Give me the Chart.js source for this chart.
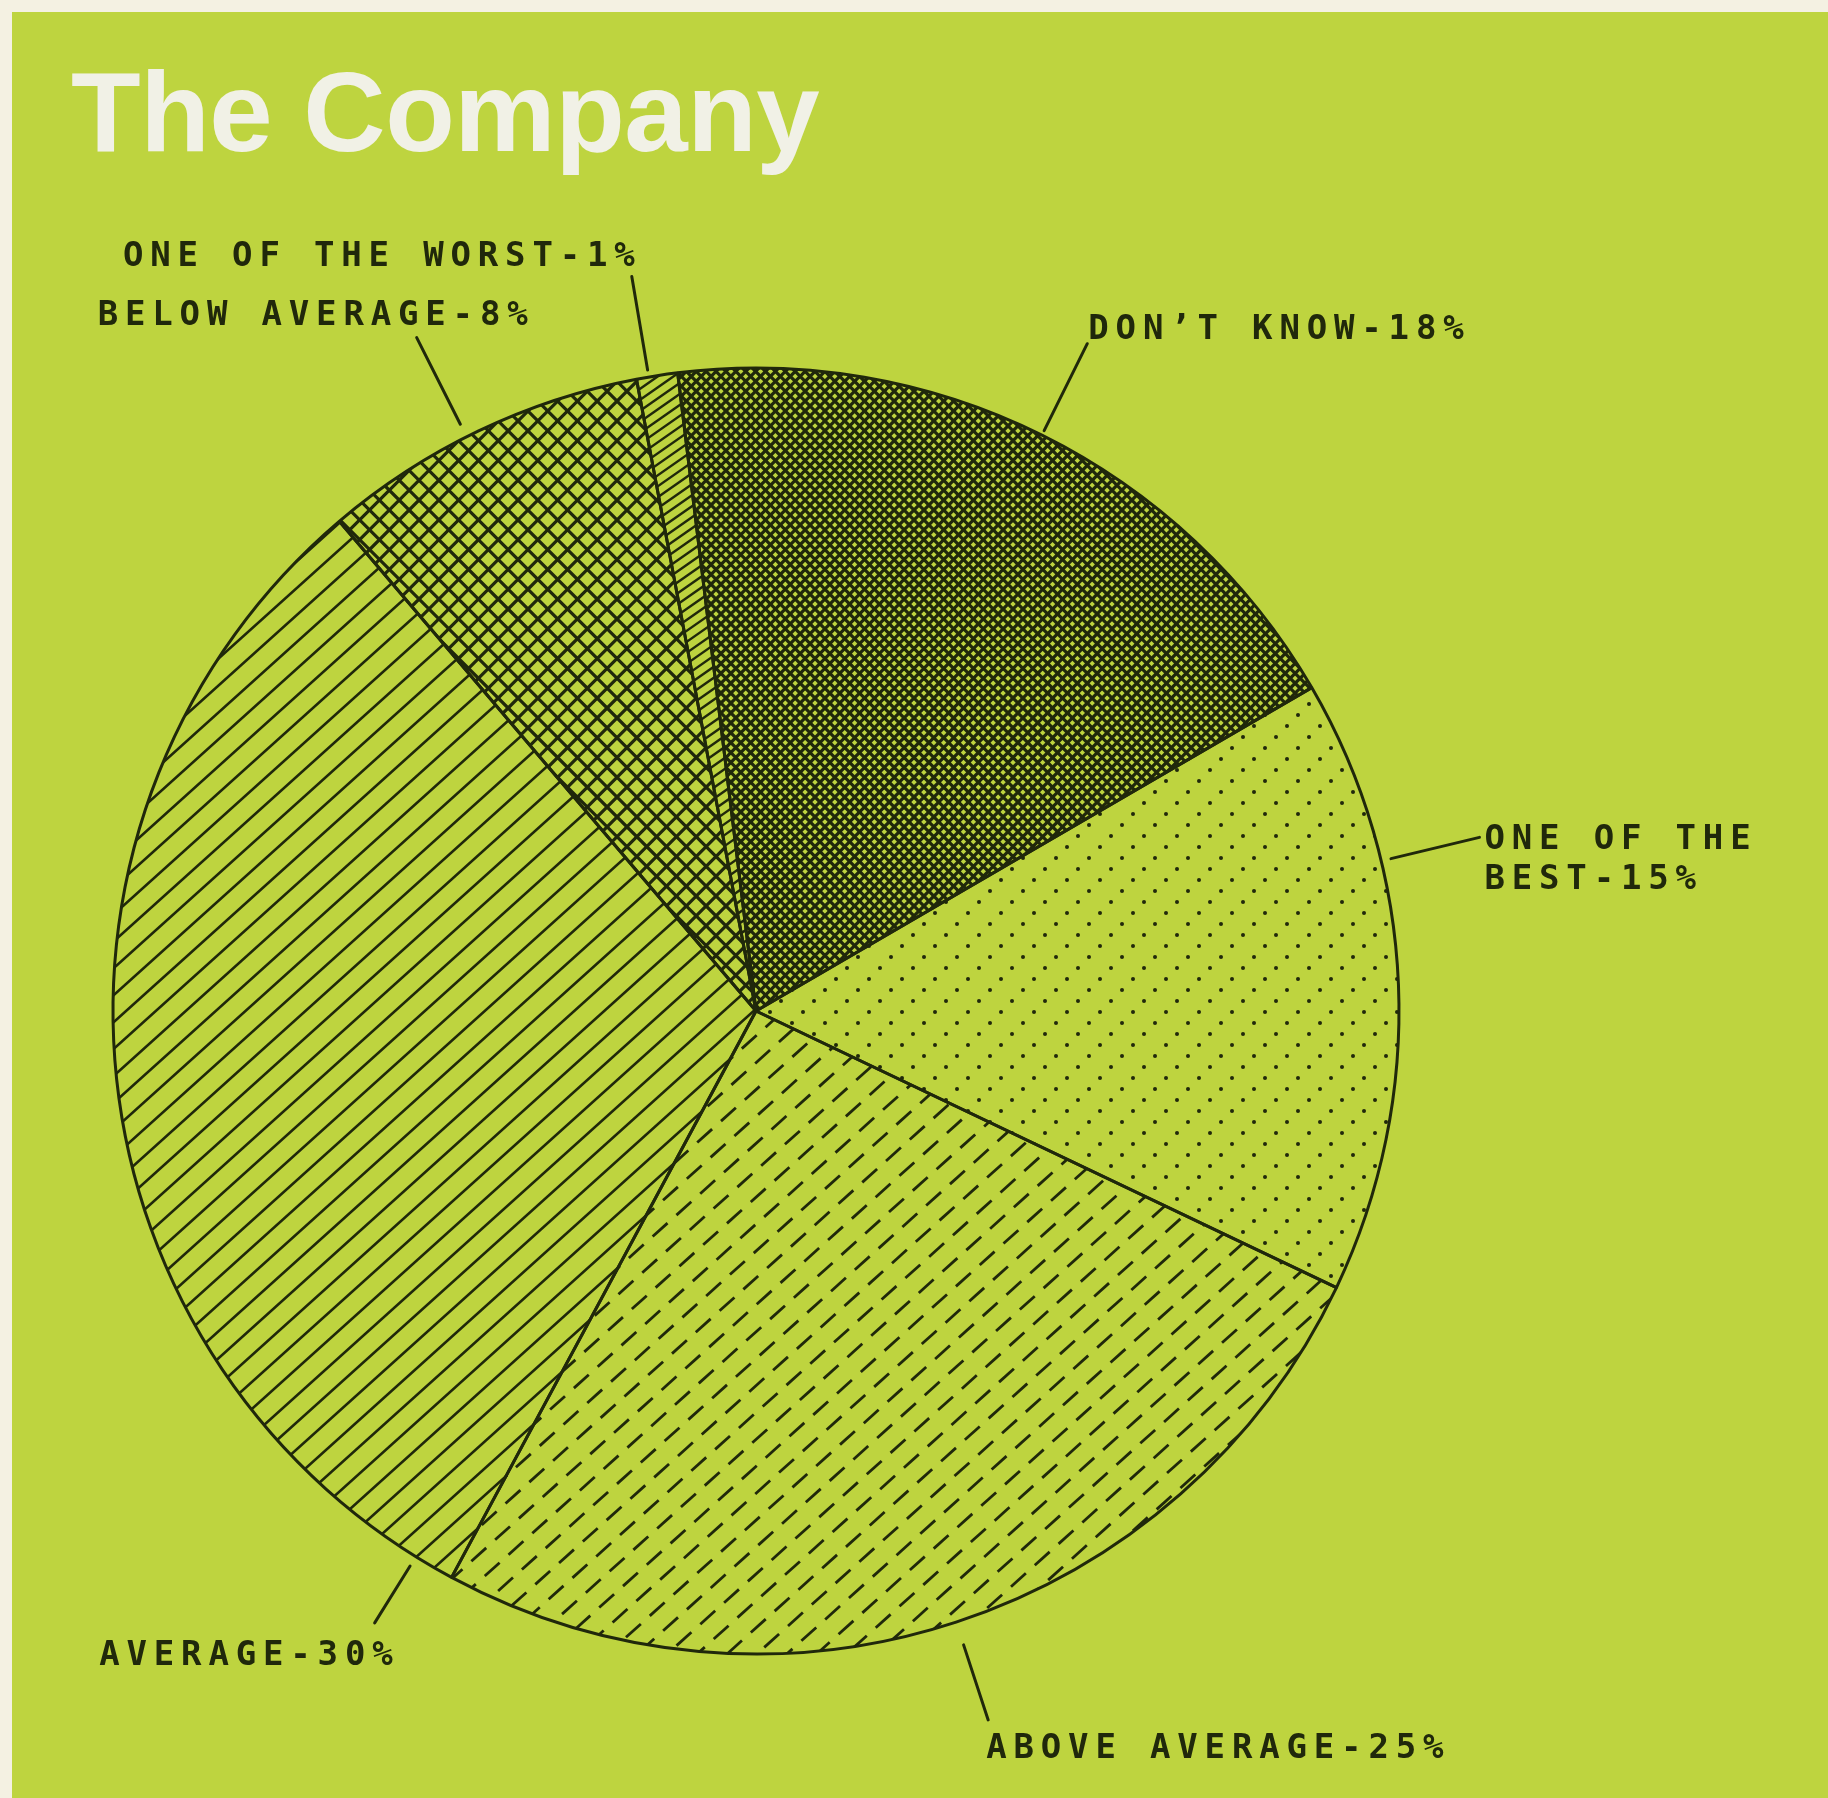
<!DOCTYPE html>
<html>
<head>
<meta charset="utf-8">
<script src="https://cdn.jsdelivr.net/npm/chart.js@4/dist/chart.umd.min.js"></script>
<style>
  html, body { margin: 0; padding: 0; background: #f4f1e2; }
  #page { position: relative; width: 1828px; height: 1798px; overflow: hidden; background: #f4f1e2; }
  #panel { position: absolute; left: 12px; top: 12px; right: 0; bottom: 0; background: #bed43f; }
  #title {
    position: absolute; left: 71px; top: 55px;
    font: bold 114px "Liberation Sans", Arial, Helvetica, sans-serif;
    line-height: 114px; color: #f1f1e6; white-space: nowrap; letter-spacing: -0.5px;
  }
  #chart { position: absolute; left: 0; top: 0; }
</style>
</head>
<body>
<div id="page">
  <div id="panel"></div>
  <div id="title">The Company</div>
  <canvas id="chart" width="1828" height="1798"></canvas>
</div>
<script>
// Survey answers, clockwise from the top of the pie
const categories = ["DON’T KNOW", ["ONE OF THE", "BEST"], "ABOVE AVERAGE", "AVERAGE", "BELOW AVERAGE", "ONE OF THE WORST"];
const percentValues = [18, 15, 25, 30, 8, 1];

const INK = '#20280b';
const W = 1828, H = 1798;

// Full-size fill layers, so hatch angles and dash phases stay continuous across the canvas
function layer(paint) {
  const c = document.createElement('canvas');
  c.width = W; c.height = H;
  const g = c.getContext('2d');
  g.strokeStyle = INK; g.fillStyle = INK;
  paint(g);
  return g.createPattern(c, 'repeat');
}

function hatch(g, angleDeg, spacing, width, dash) {
  const t = angleDeg * Math.PI / 180;
  const dx = Math.cos(t), dy = -Math.sin(t);   // along the line
  const nx = -dy, ny = dx;                      // across the lines
  const D = Math.hypot(W, H);
  const cx = W / 2, cy = H / 2;
  g.lineWidth = width;
  g.setLineDash(dash || []);
  g.beginPath();
  for (let o = -D; o <= D; o += spacing) {
    const px = cx + nx * o, py = cy + ny * o;
    g.moveTo(px - dx * D, py - dy * D);
    g.lineTo(px + dx * D, py + dy * D);
  }
  g.stroke();
  g.setLineDash([]);
}

function dots(g, step, r) {
  for (let j = 0; j * step / 3 < H + step; j++) {
    const y = j * step / 3;
    const off = ((2 * j) % 3) * step / 3;
    for (let x = off - step; x < W + step; x += step) {
      g.beginPath(); g.arc(x, y, r, 0, Math.PI * 2); g.fill();
    }
  }
}

const fills = [
  layer(g => { hatch(g, 45, 7, 3.2); hatch(g, -45, 7, 3.2); }),   // don't know: fine cross-hatch
  layer(g => dots(g, 33, 2.0)),                                   // best: dots
  layer(g => hatch(g, 42, 20, 2.8, [20, 12])),                    // above average: dashed diagonals
  layer(g => hatch(g, 42, 20, 2.6)),                              // average: solid diagonals
  layer(g => { hatch(g, 45, 14, 3.2); hatch(g, -45, 14, 3.2); }), // below average: coarse cross-hatch
  layer(g => hatch(g, 35, 9, 2.4))                                // worst: tight diagonals
];

// Leader lines and plotter-style captions, anchored on each arc
const leaderPlugin = {
  id: 'leaders',
  afterDatasetsDraw(chart, args, opts) {
    const ctx = chart.ctx;
    const meta = chart.getDatasetMeta(0);
    ctx.save();
    ctx.font = opts.font;
    ctx.fillStyle = INK;
    ctx.strokeStyle = INK;
    ctx.lineWidth = 3;
    ctx.lineCap = 'round';
    ctx.textBaseline = 'alphabetic';
    ctx.textAlign = 'left';
    meta.data.forEach((arc, i) => {
      const p = arc.getProps(['x', 'y', 'startAngle', 'endAngle', 'outerRadius'], true);
      const it = opts.items[i];
      const a = p.startAngle + it.at * (p.endAngle - p.startAngle);
      const x0 = p.x + Math.cos(a) * (p.outerRadius + it.from);
      const y0 = p.y + Math.sin(a) * (p.outerRadius + it.from);
      const x1 = p.x + Math.cos(a) * (p.outerRadius + it.to);
      const y1 = p.y + Math.sin(a) * (p.outerRadius + it.to);
      ctx.beginPath(); ctx.moveTo(x0, y0); ctx.lineTo(x1, y1); ctx.stroke();

      const label = categories[i];
      const lines = Array.isArray(label) ? label.slice() : [label];
      lines[lines.length - 1] += '-' + percentValues[i] + '%';
      lines.forEach((line, k) => {
        const chars = Array.from(line);
        const width = (chars.length - 1) * opts.advance + ctx.measureText(chars[chars.length - 1]).width;
        const x = it.align === 'right' ? x1 + it.dx - width : x1 + it.dx;
        const y = y1 + it.dy + k * opts.lineGap;
        chars.forEach((ch, n) => ctx.fillText(ch, x + n * opts.advance, y));
      });
    });
    ctx.restore();
  }
};

new Chart(document.getElementById('chart'), {
  type: 'pie',
  data: {
    labels: categories,
    datasets: [{
      data: percentValues,
      backgroundColor: fills,
      borderColor: INK,
      borderWidth: 3,
      hoverOffset: 0
    }]
  },
  options: {
    responsive: false,
    devicePixelRatio: 1,
    animation: false,
    rotation: -7,
    radius: 643,
    layout: { padding: { left: 113, right: 429, top: 368, bottom: 144 } },
    events: [],
    plugins: {
      legend: { display: false },
      tooltip: { enabled: false },
      leaders: {
        font: 'bold 34px "DejaVu Sans Mono", "Liberation Mono", monospace',
        advance: 27.3,
        lineGap: 40,
        items: [
          { at: 0.5,   from: 5,  to: 102, align: 'left',  dx: 1,   dy: -5 },
          { at: 0.30,  from: 10, to: 101, align: 'left',  dx: 5,   dy: 12 },
          { at: 0.5,   from: 24, to: 103, align: 'left',  dx: -2,  dy: 38 },
          { at: 0.033, from: 11, to: 78,  align: 'right', dx: 18,  dy: 42 },
          { at: 0.46,  from: 14, to: 111, align: 'right', dx: 111, dy: -13 },
          { at: 0.3,   from: 7,  to: 102, align: 'right', dx: 3,   dy: -10 }
        ]
      }
    }
  },
  plugins: [leaderPlugin]
});
</script>
</body>
</html>
